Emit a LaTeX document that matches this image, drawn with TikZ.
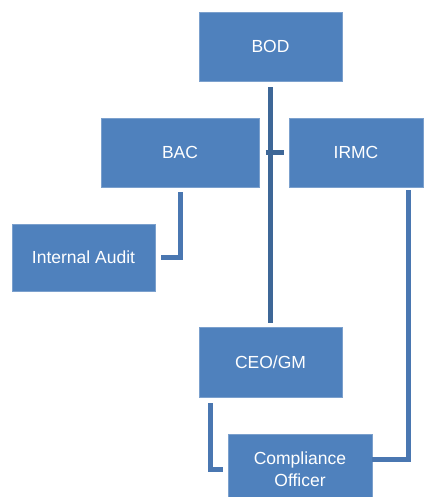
\documentclass[tikz,border=0pt]{standalone}
\usepackage{fontspec}
\setmainfont{Liberation Sans}
\usepackage{tikz}
\usetikzlibrary{positioning}
\usepackage{xcolor}
\definecolor{boxblue}{HTML}{4F81BD}
\definecolor{mainline}{HTML}{3E6797}
\definecolor{linkblue}{HTML}{4A77B1}

\begin{document}
\begin{tikzpicture}[x=1pt,y=-1pt,
    orgbox/.style={fill=boxblue, draw=boxblue!75!white, line width=0.8pt,
      text=white, font=\fontsize{17.5}{22}\selectfont, align=center,
      inner sep=0pt},
    link/.style={linkblue, line width=5pt},
    trunk/.style={mainline, line width=5pt}]
    \useasboundingbox (0,0) rectangle (424,497);
    \clip (0,0) rectangle (424,497);

    % Boxes
    \node[orgbox, minimum width=143pt, minimum height=69pt] (bod) at (270.5,46.5) {BOD};
    \node[orgbox, minimum width=158pt, minimum height=69pt] (bac) at (180,152.5) {BAC};
    \node[orgbox, minimum width=134pt, minimum height=69pt] (irmc) at (356,152.5) {IRMC};
    \node[orgbox, minimum width=143pt, minimum height=67pt] (audit) at (83.5,257.5) {Internal Audit};
    \node[orgbox, minimum width=143pt, minimum height=70pt] (ceo) at (270.5,362) {CEO/GM};
    \node[orgbox, minimum width=144pt, minimum height=70pt] (officer) at (300,469) {Compliance\\Officer};

    % Reporting lines
    \draw[trunk] ([yshift=-6pt]bod.south) -- ([yshift=4pt]ceo.north);
    \draw[trunk] ([xshift=-5pt]bod.south |- irmc.west) -- ([xshift=-5pt]irmc.west);
    \draw[link] ([yshift=-5pt]bac.south) |- ([xshift=6pt]audit.east);
    \draw[link] ([xshift=12pt,yshift=-6pt]ceo.south west) |- ([xshift=-5pt]officer.west);
    \draw[link] ([xshift=-15pt,yshift=-3pt]irmc.south east) |- ([yshift=10pt]officer.east);
\end{tikzpicture}
\end{document}
